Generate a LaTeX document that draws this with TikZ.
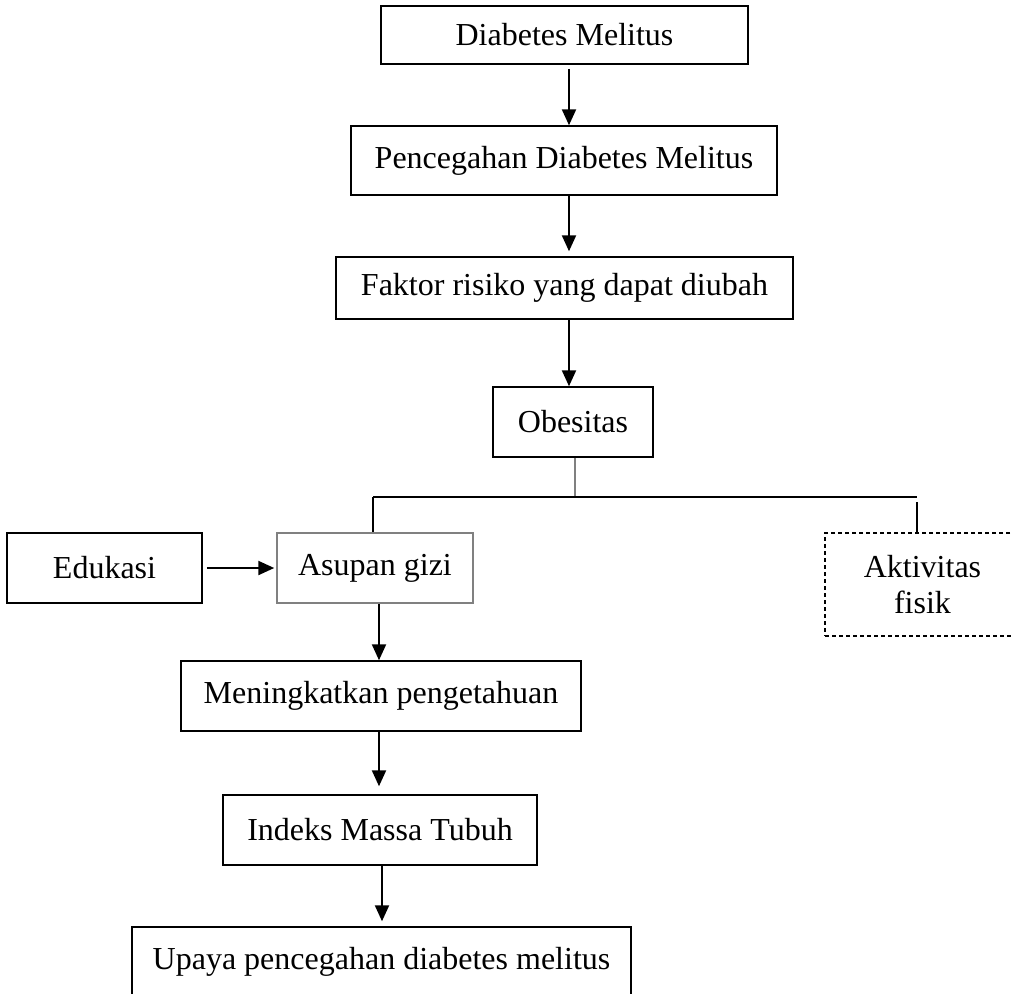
\documentclass[tikz,border=0pt]{standalone}
\usepackage{fontspec}
\setmainfont{Liberation Serif}
\usepackage{tikz}
\usetikzlibrary{shapes.geometric, arrows, arrows.meta}
\tikzstyle{arrow} = [line width=1.1pt,-{Triangle[length=8pt,width=7pt]}]
\tikzstyle{box} = [rectangle, draw, line width=0.75pt, align=center, inner sep=0pt, font=\fontsize{16}{18}\selectfont]
\tikzstyle{tline} = [line width=0.75pt]

\begin{document}
\begin{tikzpicture}[x=0.5pt,y=-0.5pt]
	\clip (0,0) rectangle (1012,993);
	
	% Main chain:
	\node[box, minimum width=183.5pt, minimum height=29pt] (dm) at (564.5,35) {Diabetes Melitus};
	\node[box, minimum width=213pt, minimum height=34.5pt] (pdm) at (564,160.5) {Pencegahan Diabetes Melitus};
	\node[box, minimum width=228.5pt, minimum height=31pt] (frd) at (564.5,288) {Faktor risiko yang dapat diubah};
	\node[box, minimum width=80pt, minimum height=35pt] (obs) at (573,422) {Obesitas};
	
	% Branches:
	\node[box, minimum width=97.5pt, minimum height=35pt] (edu) at (104.5,568) {Edukasi};
	\node[box, draw=gray, minimum width=98pt, minimum height=35pt] (asg) at (375,568) {Asupan gizi};
	\node[box, dashed, dash pattern=on 2pt off 1.5pt, minimum width=97.5pt, minimum height=51.5pt] (akt) at (922.5,584.5) {Aktivitas\\fisik};
	
	% Lower chain:
	\node[box, minimum width=200pt, minimum height=35pt] (mtp) at (381,696) {Meningkatkan pengetahuan};
	\node[box, minimum width=157pt, minimum height=35pt] (imt) at (380,830) {Indeks Massa Tubuh};
	\node[box, minimum width=249.5pt, minimum height=35pt] (upd) at (381.5,962) {Upaya pencegahan diabetes melitus};
	
	% Arrows:
	\coordinate (ax) at (569,0);
	\coordinate (bx) at (379,0);
	\draw[arrow, shorten <=2pt] (dm.south -| ax) -- (pdm.north -| ax);
	\draw[arrow, shorten >=2.5pt] (pdm.south -| ax) -- (frd.north -| ax);
	\draw[arrow] (frd.south -| ax) -- (obs.north -| ax);
	\draw[arrow, shorten <=2pt, shorten >=1pt] (edu.east) -- (asg.west);
	\draw[arrow] (asg.south -| bx) -- (mtp.north -| bx);
	\draw[arrow, shorten >=4pt] (mtp.south -| bx) -- (imt.north -| bx);
	\draw[arrow, shorten >=2.5pt] ([xshift=1.5pt]imt.south -| bx) -- ([xshift=1.5pt]upd.north -| bx);
	
	% Tree from Obesitas:
	\coordinate (jn) at (575,497);
	\coordinate (jl) at (373,497);
	\coordinate (jr) at (917,497);
	\draw[gray, line width=0.6pt] (obs.south -| jn) -- (jn);
	\draw[tline] (jl) -- (jr);
	\draw[line width=1.1pt] (jl) -- (asg.north -| jl);
	\draw[line width=1.1pt] ([yshift=-2.5pt]jr) -- (akt.north -| jr);
	
\end{tikzpicture}
\end{document}
